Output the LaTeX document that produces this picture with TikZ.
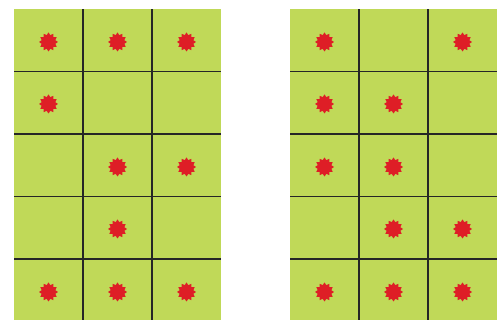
\documentclass[tikz,border=0pt]{standalone}
\usepackage{tikz}
\usetikzlibrary{shapes.geometric}
\definecolor{cellgreen}{RGB}{192,217,88}
\definecolor{starred}{RGB}{222,30,38}
\tikzset{
  dot/.style={star,star points=12,star point ratio=1.35,minimum size=19pt,inner sep=0pt,fill=starred,draw=none},
  gridline/.style={line width=1.2pt,color=black!85}
}
\begin{document}
\begin{tikzpicture}
  \useasboundingbox (0pt,0pt) rectangle (503pt,320pt);
  %\draw[color=gray,step=10pt, help lines,opacity=0.3] (0pt,0pt) grid (503pt,320pt); %help grids
  % left board
  \fill[cellgreen] (14pt,-1.5pt) rectangle (221pt,311pt);
  \draw[gridline] (83pt,-1.5pt)--(83pt,311pt);
  \draw[gridline] (152pt,-1.5pt)--(152pt,311pt);
  \draw[gridline] (14pt,248.5pt)--(221pt,248.5pt);
  \draw[gridline] (14pt,186pt)--(221pt,186pt);
  \draw[gridline] (14pt,123.5pt)--(221pt,123.5pt);
  \draw[gridline] (14pt,61pt)--(221pt,61pt);
  \node[dot] (l11) at (48.5pt,278pt) {};
  \node[dot] (l12) at (117.5pt,278pt) {};
  \node[dot] (l13) at (186.5pt,278pt) {};
  \node[dot] (l21) at (48.5pt,216pt) {};
  \node[dot] (l32) at (117.5pt,153pt) {};
  \node[dot] (l33) at (186.5pt,153pt) {};
  \node[dot] (l42) at (117.5pt,91pt) {};
  \node[dot] (l51) at (48.5pt,28pt) {};
  \node[dot] (l52) at (117.5pt,28pt) {};
  \node[dot] (l53) at (186.5pt,28pt) {};
  % right board
  \fill[cellgreen] (290pt,-1.5pt) rectangle (497pt,311pt);
  \draw[gridline] (359pt,-1.5pt)--(359pt,311pt);
  \draw[gridline] (428pt,-1.5pt)--(428pt,311pt);
  \draw[gridline] (290pt,248.5pt)--(497pt,248.5pt);
  \draw[gridline] (290pt,186pt)--(497pt,186pt);
  \draw[gridline] (290pt,123.5pt)--(497pt,123.5pt);
  \draw[gridline] (290pt,61pt)--(497pt,61pt);
  \node[dot] (r11) at (324.5pt,278pt) {};
  \node[dot] (r13) at (462.5pt,278pt) {};
  \node[dot] (r21) at (324.5pt,216pt) {};
  \node[dot] (r22) at (393.5pt,216pt) {};
  \node[dot] (r31) at (324.5pt,153pt) {};
  \node[dot] (r32) at (393.5pt,153pt) {};
  \node[dot] (r42) at (393.5pt,91pt) {};
  \node[dot] (r43) at (462.5pt,91pt) {};
  \node[dot] (r51) at (324.5pt,28pt) {};
  \node[dot] (r52) at (393.5pt,28pt) {};
  \node[dot] (r53) at (462.5pt,28pt) {};
\end{tikzpicture}
\end{document}
